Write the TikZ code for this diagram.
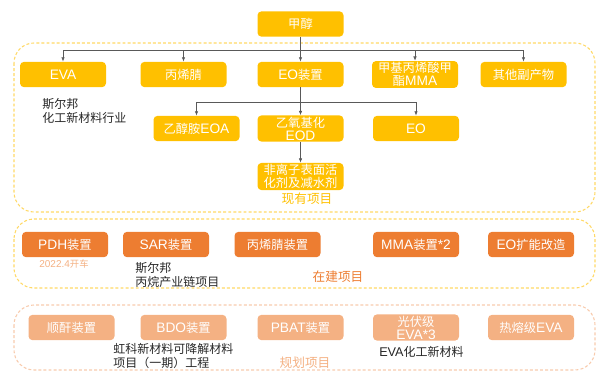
\documentclass[tikz,border=0pt]{standalone}
\usepackage{fontspec}
\setmainfont{Noto Sans CJK SC}
\newfontfamily\latfam{Liberation Sans}
\newcommand\LatB[1]{{\latfam\fontsize{10.3pt}{10pt}\selectfont #1}}
\newcommand\LatN[1]{{\latfam\fontsize{9.5pt}{10pt}\selectfont #1}}
\usetikzlibrary{arrows.meta}
\definecolor{cyel}{HTML}{FFC000}
\definecolor{cora}{HTML}{ED7D31}
\definecolor{clor}{HTML}{F4B183}
\definecolor{cdyel}{HTML}{FFD966}
\definecolor{cdpale}{HTML}{F8CBAD}
\definecolor{cline}{HTML}{595959}
\definecolor{ctxt}{HTML}{262626}
\tikzset{
  boxbase/.style={rounded corners=3pt, minimum width=64.5pt, minimum height=19pt, inner sep=1pt,
    text=white, font=\fontsize{9.2pt}{9.8pt}\selectfont, align=center},
  ybox/.style={boxbase, fill=cyel},
  obox/.style={boxbase, fill=cora},
  lbox/.style={boxbase, fill=clor},
  conn/.style={draw=cline, line width=0.5pt, -{Latex[length=3.2pt,width=2.6pt]}},
  plain/.style={draw=cline, line width=0.5pt},
  region/.style={dash pattern=on 2.2pt off 1.6pt, line width=0.8pt, rounded corners=15pt},
  note/.style={text=ctxt, font=\fontsize{9pt}{10.5pt}\selectfont, align=left, anchor=north west, inner sep=0pt},
}
\begin{document}
\begin{tikzpicture}[x=0.75pt,y=-0.75pt]
\useasboundingbox (0,0) rectangle (598,372);
% regions
\draw[region, draw=cdyel] (14,43) rectangle (595,212);
\draw[region, draw=cdyel] (14,219) rectangle (595,288);
\draw[region, draw=cdpale] (14,305) rectangle (595,370);

% top
\node[ybox] (mch) at (300.5,24) {甲醇};
% row 1
\node[ybox] (eva) at (63,74.5) {\LatB{EVA}};
\node[ybox] (an) at (183.5,74.5) {丙烯腈};
\node[ybox] (eo) at (300.5,74.5) {\LatB{EO}装置};
\node[ybox] (mma) at (415,74.5) {甲基丙烯酸甲\\酯\LatB{MMA}};
\node[ybox] (oth) at (523.5,74.5) {其他副产物};
% row 2
\node[ybox] (eoa) at (196.5,128.5) {乙醇胺\LatB{EOA}};
\node[ybox] (eod) at (300.5,128.5) {乙氧基化\\\LatB{EOD}};
\node[ybox] (eo2) at (416,128.5) {\LatB{EO}};
% row 3
\node[ybox] (nis) at (300.5,176.5) {非离子表面活\\化剂及减水剂};

% connectors row1
\coordinate (j1) at (300.5,50);
\draw[plain] (mch.south) -- (j1);
\draw[conn] (j1) -| (eva.north);
\draw[conn] (j1) -| (an.north);
\draw[conn] (j1) -- (eo.north);
\draw[conn] (j1) -| (mma.north);
\draw[conn] (j1) -| (oth.north);
% connectors row2
\coordinate (j2) at (300.5,102);
\draw[plain] (eo.south) -- (j2);
\draw[conn] (j2) -| (eoa.north);
\draw[conn] (j2) -- (eod.north);
\draw[conn] (j2) -| (eo2.north);
% row3
\draw[conn] (eod.south) -- (nis.north);

\node[note] (n1) at (42,98) {斯尔邦\\化工新材料行业};
\node[text=cyel, font=\fontsize{9.5pt}{10pt}\selectfont] (l1) at (307,199) {现有项目};

% under construction
\node[obox] (pdh) at (65,244.5) {\LatB{PDH}装置};
\node[obox] (sar) at (166,244.5) {\LatB{SAR}装置};
\node[obox] (anp) at (277.5,244.5) {丙烯腈装置};
\node[obox] (mmap) at (416,244.5) {\LatB{MMA}装置\LatB{*2}};
\node[obox] (eox) at (531,244.5) {\LatB{EO}扩能改造};
\node[text=clor, font=\fontsize{7pt}{8pt}\selectfont] (d1) at (64,263.5) {{\latfam\fontsize{7.5pt}{8pt}\selectfont 2022.4}开车};
\node[note] (n2) at (135,262) {斯尔邦\\丙烷产业链项目};
\node[text=cora, font=\fontsize{9.5pt}{10pt}\selectfont] (l2) at (338,277) {在建项目};

% planned
\node[lbox] (ma) at (71.5,327.5) {顺酐装置};
\node[lbox] (bdo) at (183.5,327.5) {\LatB{BDO}装置};
\node[lbox] (pbat) at (300.5,327.5) {\LatB{PBAT}装置};
\node[lbox] (pv) at (416,327.5) {光伏级\\\LatB{EVA*3}};
\node[lbox] (hm) at (531,327.5) {热熔级\LatB{EVA}};
\node[note] (n3) at (113,343) {虹科新材料可降解材料\\项目（一期）工程};
\node[note] (n4) at (379,346) {\LatN{EVA}化工新材料};
\node[text=clor, font=\fontsize{9.5pt}{10pt}\selectfont] (l3) at (305,363) {规划项目};
\end{tikzpicture}
\end{document}
